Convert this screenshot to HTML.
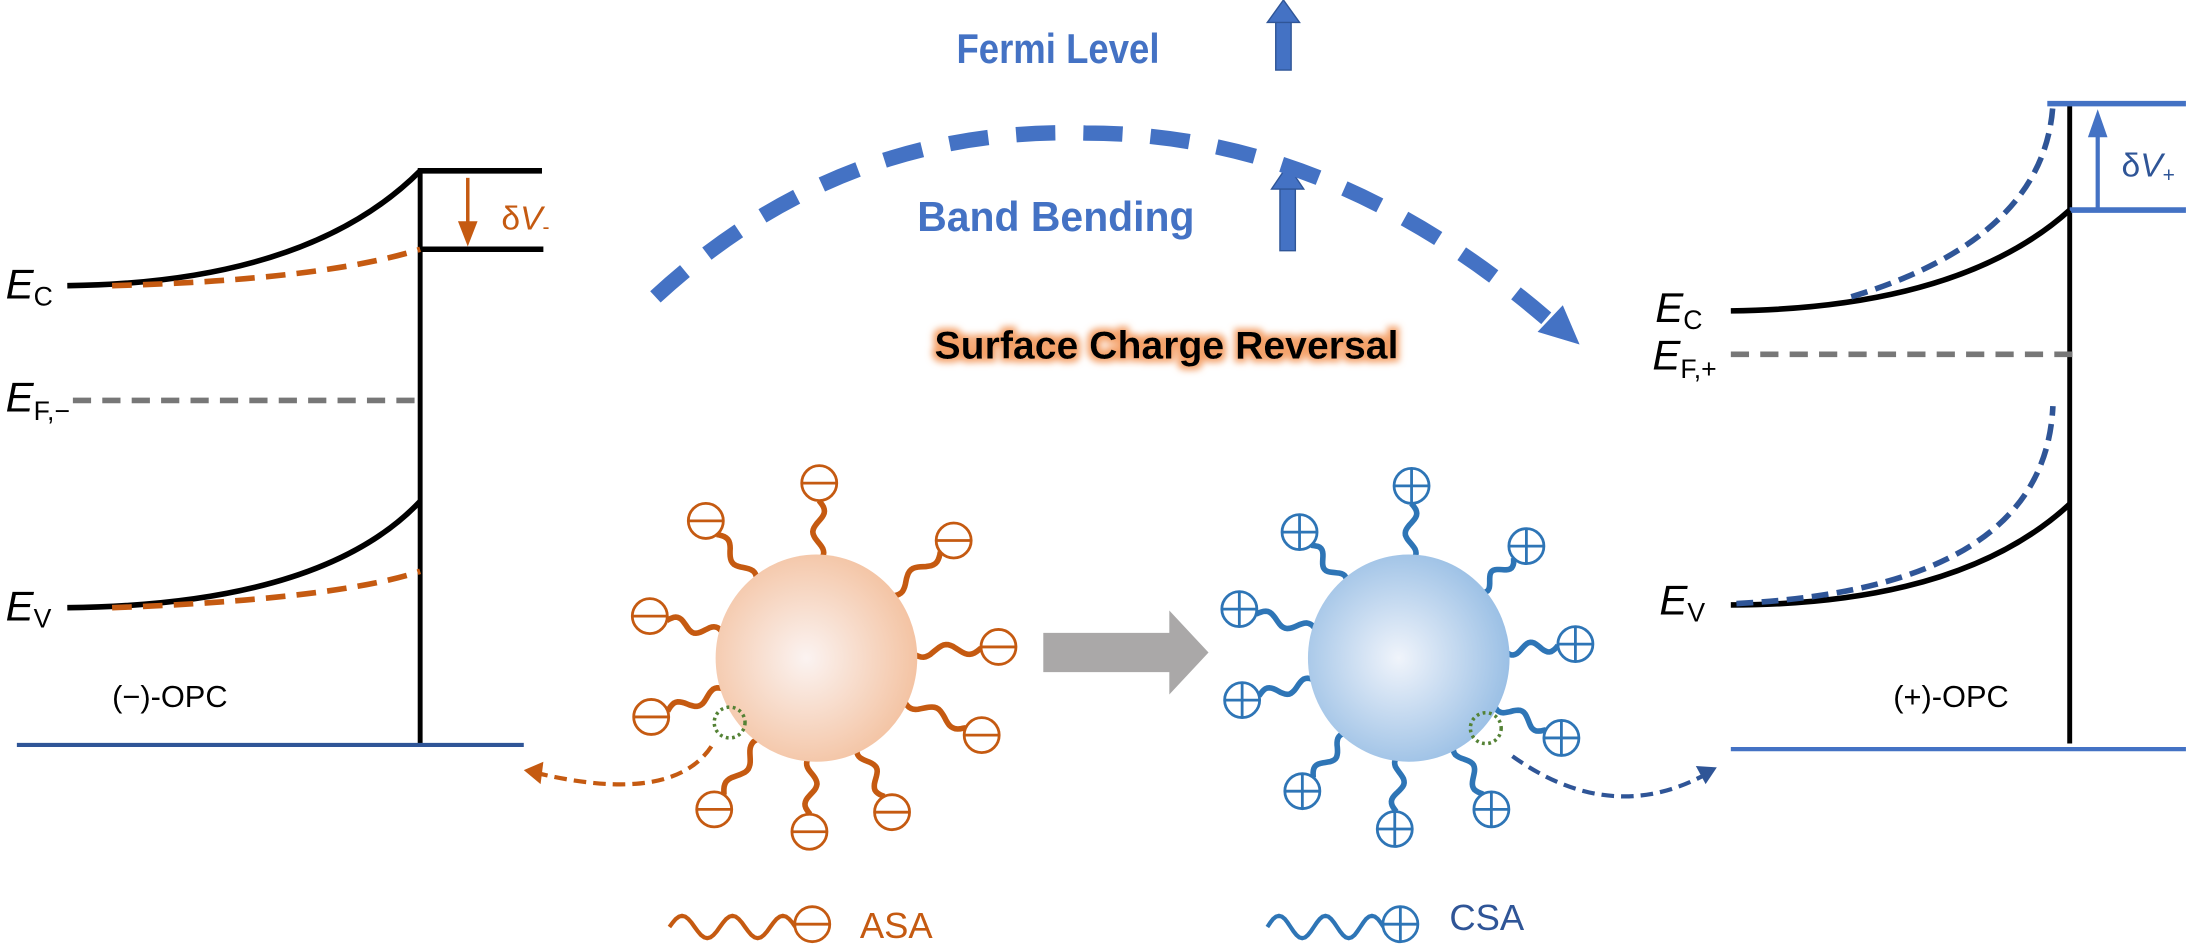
<!DOCTYPE html>
<html><head><meta charset="utf-8"><style>
html,body{margin:0;padding:0;background:#fff;}
svg{display:block;font-family:"Liberation Sans",sans-serif;}
</style></head><body>
<svg id="s" width="2186" height="948" viewBox="0 0 1561 677" xmlns="http://www.w3.org/2000/svg">
<defs>
<radialGradient id="go" cx="0.45" cy="0.5" r="0.6"><stop offset="0" stop-color="#fbf3f1"/><stop offset="1" stop-color="#f3bf9c"/></radialGradient>
<radialGradient id="gb" cx="0.45" cy="0.5" r="0.6"><stop offset="0" stop-color="#f0f4fb"/><stop offset="1" stop-color="#93bbe3"/></radialGradient>
<filter id="glow" x="-20%" y="-50%" width="140%" height="200%"><feMorphology in="SourceAlpha" operator="dilate" radius="2.5" result="d"/><feGaussianBlur in="d" stdDeviation="2.5" result="b"/><feFlood flood-color="#f4a26b"/><feComposite in2="b" operator="in" result="g"/><feMerge><feMergeNode in="g"/><feMergeNode in="SourceGraphic"/></feMerge></filter>
</defs>

<!-- LEFT band diagram -->
<g fill="none">
<line x1="300" y1="120" x2="300" y2="531" stroke="#000" stroke-width="3.5"/>
<line x1="300" y1="122" x2="387" y2="122" stroke="#000" stroke-width="4"/>
<line x1="300" y1="178" x2="388" y2="178" stroke="#000" stroke-width="4"/>
<path d="M48 204 Q220 202 300 122" stroke="#000" stroke-width="4"/>
<path d="M80 204 Q230 200 300 178" stroke="#c55a11" stroke-width="4" stroke-dasharray="14 8"/>
<line x1="52" y1="286" x2="298" y2="286" stroke="#777" stroke-width="4" stroke-dasharray="13 8"/>
<path d="M48 434 Q230 432 300 358" stroke="#000" stroke-width="4"/>
<path d="M80 434 Q240 428 300 408" stroke="#c55a11" stroke-width="4" stroke-dasharray="14 8"/>
<line x1="334" y1="127" x2="334" y2="160" stroke="#c55a11" stroke-width="2.5"/>
<line x1="12" y1="532" x2="374" y2="532" stroke="#2f5597" stroke-width="3"/>
</g>
<polygon points="327,158 341,158 334,176" fill="#c55a11"/>
<text x="358" y="164" font-size="24" fill="#c55a11">δ<tspan font-style="italic">V</tspan><tspan font-size="15" dy="3">-</tspan></text>
<text x="4" y="213" font-size="30" font-style="italic">E<tspan font-style="normal" font-size="19" dy="5">C</tspan></text>
<text x="4" y="294" font-size="30" font-style="italic">E<tspan font-style="normal" font-size="19" dy="6">F,−</tspan></text>
<text x="4" y="443" font-size="30" font-style="italic">E<tspan font-style="normal" font-size="19" dy="5">V</tspan></text>
<text x="80" y="505" font-size="22">(−)-OPC</text>

<!-- RIGHT band diagram -->
<g fill="none">
<line x1="1478" y1="73" x2="1478" y2="531" stroke="#000" stroke-width="3.5"/>
<line x1="1462" y1="74" x2="1561" y2="74" stroke="#4472c4" stroke-width="4"/>
<line x1="1478" y1="150" x2="1561" y2="150" stroke="#4472c4" stroke-width="4"/>
<path d="M1236 222 Q1400 220 1478 150" stroke="#000" stroke-width="4"/>
<path d="M1322 212 Q1460 170 1466 75" stroke="#2f5597" stroke-width="4" stroke-dasharray="12 6"/>
<line x1="1236" y1="253" x2="1480" y2="253" stroke="#777" stroke-width="4" stroke-dasharray="13 8"/>
<path d="M1236 432 Q1400 432 1478 360" stroke="#000" stroke-width="4"/>
<path d="M1240 431 Q1460 420 1466 290" stroke="#2f5597" stroke-width="4" stroke-dasharray="12 6"/>
<line x1="1498" y1="95" x2="1498" y2="150" stroke="#4472c4" stroke-width="3"/>
<line x1="1236" y1="535" x2="1561" y2="535" stroke="#4472c4" stroke-width="3"/>
</g>
<polygon points="1491,98 1505,98 1498,78" fill="#4472c4"/>
<text x="1515" y="126" font-size="24" fill="#2f5597">δ<tspan font-style="italic">V</tspan><tspan font-size="15" dy="4">+</tspan></text>
<text x="1182" y="230" font-size="30" font-style="italic">E<tspan font-style="normal" font-size="19" dy="5">C</tspan></text>
<text x="1180" y="264" font-size="30" font-style="italic">E<tspan font-style="normal" font-size="19" dy="6">F,+</tspan></text>
<text x="1185" y="439" font-size="30" font-style="italic">E<tspan font-style="normal" font-size="19" dy="5">V</tspan></text>
<text x="1352" y="505" font-size="22">(+)-OPC</text>

<!-- top center -->
<text x="683" y="45" font-size="30" font-weight="bold" fill="#4472c4" textLength="145" lengthAdjust="spacingAndGlyphs">Fermi Level</text>
<polygon points="911,14 922,14 922,50 911,50" fill="#4472c4" stroke="#2f5597" stroke-width="1"/>
<polygon points="905,16 916.5,0 928,16" fill="#4472c4" stroke="#2f5597" stroke-width="1"/>
<text x="655" y="165" font-size="30" font-weight="bold" fill="#4472c4" textLength="198" lengthAdjust="spacingAndGlyphs">Band Bending</text>
<polygon points="914,133 925,133 925,179 914,179" fill="#4472c4" stroke="#2f5597" stroke-width="1"/>
<polygon points="908,135 919.5,118 931,135" fill="#4472c4" stroke="#2f5597" stroke-width="1"/>
<path d="M468 212 Q600 90 775 95 Q950 95 1105 228" fill="none" stroke="#4472c4" stroke-width="11" stroke-dasharray="28 20"/>
<polygon points="1128,246 1098,237 1116,218" fill="#4472c4"/>
<text x="833" y="256" font-size="28" font-weight="bold" text-anchor="middle" filter="url(#glow)">Surface Charge Reversal</text>

<!-- gray arrow -->
<polygon points="745,452 835,452 835,436 863,466 835,496 835,480 745,480" fill="#aaa8a8"/>

<g id="mol"></g>
<ellipse cx="583" cy="470" rx="72" ry="74" fill="url(#go)"/>
<ellipse cx="1006" cy="470" rx="72" ry="74" fill="url(#gb)"/>
<circle cx="521" cy="516" r="11" fill="none" stroke="#548235" stroke-width="2.5" stroke-dasharray="2 2.5"/>
<circle cx="1061" cy="520" r="11" fill="none" stroke="#548235" stroke-width="2.5" stroke-dasharray="2 2.5"/>
<path d="M508 533 Q480 575 383 552" fill="none" stroke="#c55a11" stroke-width="3" stroke-dasharray="9 5"/>
<polygon points="374,550 388,544 386,560" fill="#c55a11"/>
<path d="M1080 540 Q1150 590 1218 553" fill="none" stroke="#2f5597" stroke-width="3" stroke-dasharray="9 5"/>
<polygon points="1226,548 1211,547 1218,560" fill="#2f5597"/>

<text x="614" y="670" font-size="26" fill="#c55a11">ASA</text>
<text x="1035" y="664" font-size="26" fill="#2f5597">CSA</text>

<script>
const g=document.getElementById('mol');
const NS='http://www.w3.org/2000/svg';
const R=12.5;
function lig(cx,cy,px,py,col,plus){
 const dx=px-cx,dy=py-cy,d=Math.hypot(dx,dy),ux=dx/d,uy=dy/d,nx=-uy,ny=ux;
 const r0=68,r1=d-R;let p='';
 for(let i=0;i<=30;i++){const t=i/30,r=r0+(r1-r0)*t,o=4*Math.sin(t*Math.PI*3);
  const x=cx+ux*r+nx*o,y=cy+uy*r+ny*o;p+=(i?'L':'M')+x.toFixed(1)+' '+y.toFixed(1);}
 const pa=document.createElementNS(NS,'path');pa.setAttribute('d',p);pa.setAttribute('fill','none');
 pa.setAttribute('stroke',col);pa.setAttribute('stroke-width','4');g.appendChild(pa);
 sym(px,py,col,plus);
}
function sym(px,py,col,plus){
 const c=document.createElementNS(NS,'circle');c.setAttribute('cx',px);c.setAttribute('cy',py);c.setAttribute('r',R);
 c.setAttribute('fill','#fff');c.setAttribute('stroke',col);c.setAttribute('stroke-width','2');g.appendChild(c);
 const l=document.createElementNS(NS,'path');
 l.setAttribute('d',`M${px-R} ${py}L${px+R} ${py}`+(plus?`M${px} ${py-R}L${px} ${py+R}`:''));
 l.setAttribute('stroke',col);l.setAttribute('stroke-width','2');g.appendChild(l);
}
const O='#c55a11',B='#2e75b6';
[[585,345],[504,372],[681,386],[464,440],[713,462],[465,512],[701,525],[510,578],[578,594],[637,580]].forEach(p=>lig(583,470,p[0],p[1],O,false));
[[1008,347],[928,380],[1090,390],[885,435],[1125,460],[887,500],[1115,527],[930,565],[996,592],[1065,578]].forEach(p=>lig(1006,470,p[0],p[1],B,true));
function wave(x0,x1,y,col){let p='';for(let i=0;i<=40;i++){const t=i/40,x=x0+(x1-x0)*t,yy=y-8*Math.sin(t*Math.PI*5);p+=(i?'L':'M')+x.toFixed(1)+' '+yy.toFixed(1);}
 const pa=document.createElementNS(NS,'path');pa.setAttribute('d',p);pa.setAttribute('fill','none');pa.setAttribute('stroke',col);pa.setAttribute('stroke-width','3');g.appendChild(pa);}
wave(478,568,662,O);sym(580,660,O,false);
wave(905,988,662,B);sym(1000,660,B,true);
</script>
</svg>
</body></html>
